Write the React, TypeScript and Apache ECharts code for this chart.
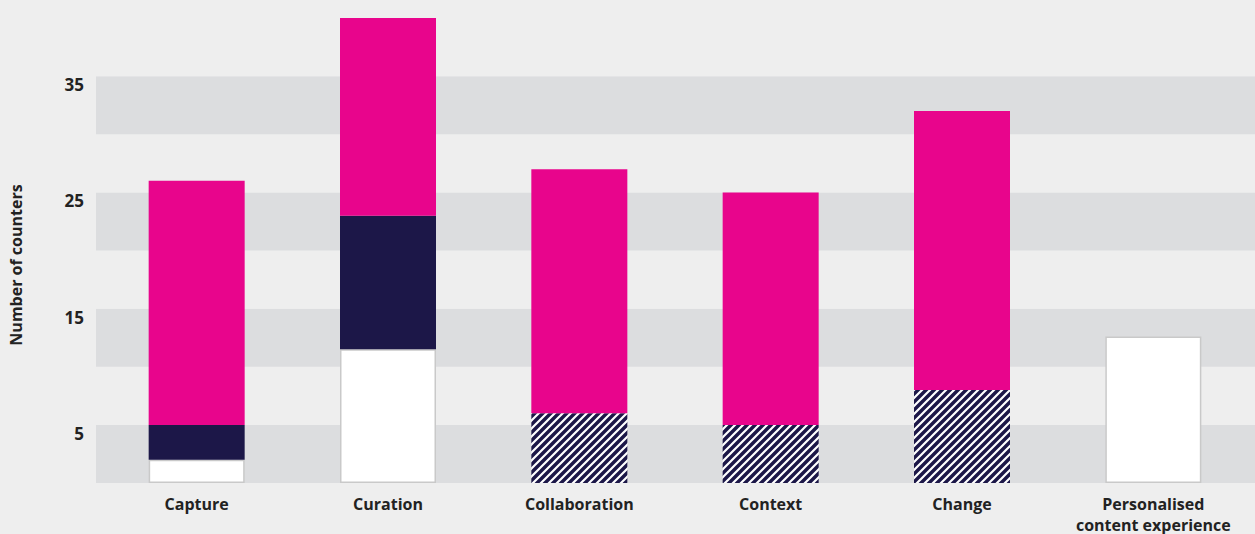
import React, { useEffect, useRef } from "react";
import * as echarts from "echarts";

const categories = ["Capture", "Curation", "Collaboration", "Context", "Change", "Personalised\ncontent experience"];
const whiteValues = [2, 11.5, null, null, null, 12.6];
const navyValues = [3, 11.5, null, null, null, null];
const hatchValues = [null, null, 6, 5, 8, null];
const pinkValues = [21, 17, 21, 20, 24, null];
const yTickLabels = [5, 15, 25, 35];

const PINK = "#e8058c";
const NAVY = "#1c1748";
const BG = "#eeeeee";
const BAND = "#dcdddf";
const TEXT = "#222222";
const FONT = "'Open Sans', Lato, sans-serif";

function makeHatch() {
  const c = document.createElement("canvas");
  const s = 8;
  c.width = s;
  c.height = s;
  const ctx = c.getContext("2d")!;
  ctx.fillStyle = NAVY;
  ctx.fillRect(0, 0, s, s);
  ctx.strokeStyle = "#ffffff";
  ctx.lineWidth = 2.2;
  ctx.beginPath();
  ctx.moveTo(-2, s + 2);
  ctx.lineTo(s + 2, -2);
  ctx.moveTo(-2, 2);
  ctx.lineTo(2, -2);
  ctx.moveTo(s - 2, s + 2);
  ctx.lineTo(s + 2, s - 2);
  ctx.stroke();
  return c;
}

export default function App() {
  const ref = useRef<HTMLDivElement>(null);
  useEffect(() => {
    document.body.style.margin = "0";
    document.body.style.background = BG;
    const chart = echarts.init(ref.current!, undefined, { renderer: "svg" });
    const hatch = makeHatch();
    const barBase = { type: "bar", stack: "s", barWidth: 96, xAxisIndex: 1, yAxisIndex: 1 };
    const yCommon = { type: "value", min: 0, max: 40, interval: 5 };
    chart.setOption({
      animation: false,
      backgroundColor: BG,
      grid: [
        { left: 96, right: 0, top: 18, bottom: 51, containLabel: false, outerBoundsMode: "none" },
        { left: 101, right: 6, top: 18, bottom: 51, containLabel: false, outerBoundsMode: "none" },
      ],
      xAxis: [
        { type: "value", gridIndex: 0, show: false, min: 0, max: 1 },
        {
          type: "category",
          gridIndex: 1,
          data: categories,
          axisLine: { show: false },
          axisTick: { show: false },
          axisLabel: {
            margin: 10,
            color: TEXT,
            fontFamily: FONT,
            fontWeight: "bold",
            fontSize: 16,
            lineHeight: 21,
            interval: 0,
          },
        },
      ],
      yAxis: [
        {
          ...yCommon,
          gridIndex: 0,
          axisLine: { show: false },
          axisTick: { show: false },
          splitLine: { show: false },
          splitArea: { show: true, areaStyle: { color: [BAND, BG] } },
          axisLabel: {
            margin: 12,
            color: TEXT,
            fontFamily: FONT,
            fontWeight: "bold",
            fontSize: 17,
            verticalAlign: "top",
            formatter: (v: number) => (yTickLabels.includes(v) ? String(v) : ""),
          },
        },
        { ...yCommon, gridIndex: 1, show: false, splitLine: { show: false } },
      ],
      graphic: [
        {
          type: "text",
          x: 16,
          y: 265,
          rotation: Math.PI / 2,
          style: {
            text: "Number of counters",
            fill: TEXT,
            font: `bold 16px ${FONT}`,
            align: "center",
            verticalAlign: "middle",
          },
        },
      ],
      series: [
        {
          ...barBase,
          data: whiteValues,
          itemStyle: { color: "#ffffff", borderColor: "#c9c9c9", borderWidth: 1.5 },
        },
        { ...barBase, data: navyValues, itemStyle: { color: NAVY } },
        { ...barBase, data: hatchValues, itemStyle: { color: { image: hatch, repeat: "repeat" } } },
        { ...barBase, data: pinkValues, itemStyle: { color: PINK } },
      ],
    });
    return () => chart.dispose();
  }, []);
  return <div ref={ref} style={{ width: 1255, height: 534 }} />;
}
